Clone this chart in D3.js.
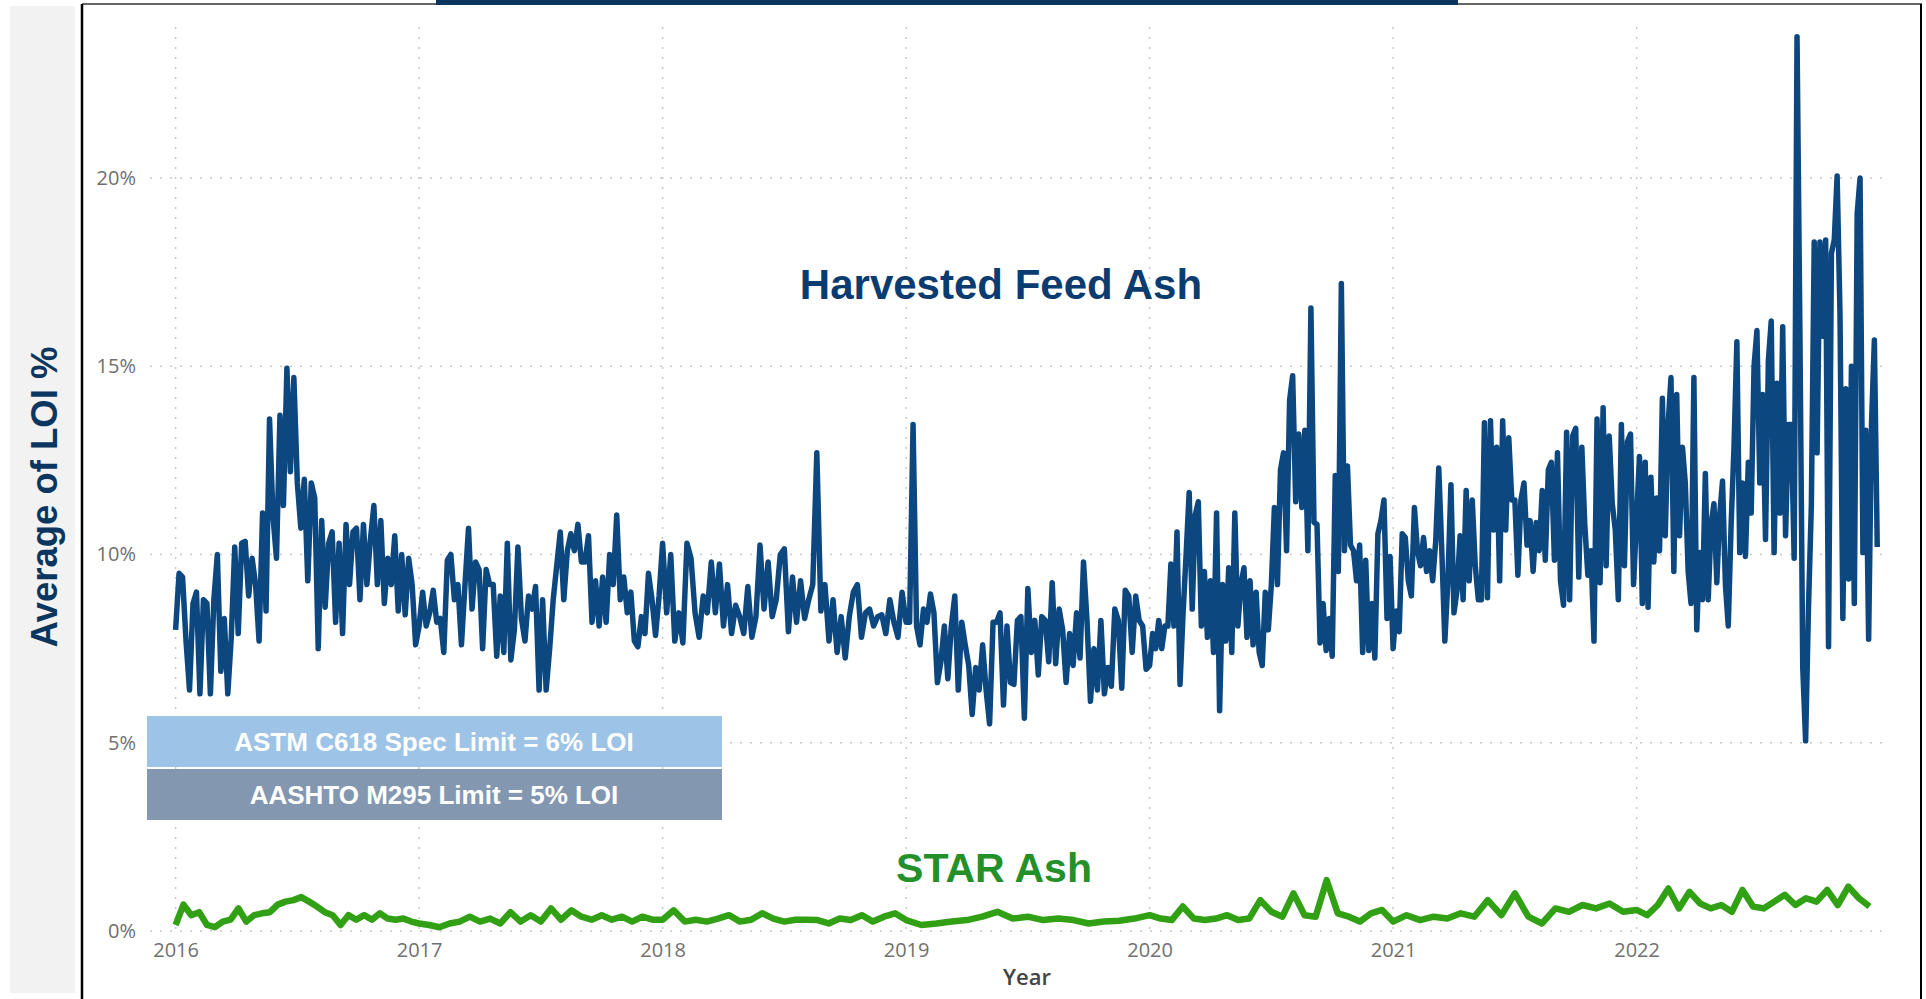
<!DOCTYPE html>
<html>
<head>
<meta charset="utf-8">
<script src="https://cdn.jsdelivr.net/npm/d3@7"></script>
<style>
  html, body { margin: 0; padding: 0; background: #fff; }
  svg { display: block; }
</style>
</head>
<body>
<svg id="chart" width="1926" height="999"></svg>
<script>
// Harvested feed ash LOI %, one array per year (evenly spread in the year)
var feed2016 = [8.0, 9.5, 9.4, 7.7, 6.4, 8.7, 9.0, 6.3, 8.8, 8.7, 6.3, 8.8, 10.0, 6.9, 8.3, 6.3, 7.8, 10.2, 7.9, 10.3,
  10.35, 8.9, 9.9, 9.2, 7.7, 11.1, 8.5, 13.6, 11.0, 9.9, 13.7, 11.3, 14.95, 12.2, 14.7, 11.9, 10.7, 12.0, 9.3, 11.9,
  11.5, 7.5, 10.9, 8.6, 10.3, 10.6, 8.2, 10.3, 7.9, 10.8, 9.2, 10.6, 10.7, 8.8, 10.8, 9.2, 10.4, 11.3, 9.2, 10.9,
  8.7, 9.9, 9.2, 10.5, 8.5, 10.0, 8.4, 9.9, 9.2, 7.6];
var feed2017 = [8.1, 9.0, 8.1, 8.45, 9.05, 8.2, 8.3, 7.4, 9.85, 10.0, 8.8, 9.2, 7.6, 9.2, 10.7, 8.55, 9.8, 9.6, 7.5, 9.6,
  9.2, 9.2, 7.3, 8.9, 7.4, 10.3, 7.2, 8.0, 10.2, 8.3, 7.7, 8.9, 8.55, 9.15, 6.4, 8.8, 6.4, 7.5, 8.8, 9.7,
  10.6, 8.8, 10.1, 10.55, 10.1, 10.8, 9.8, 9.8, 10.5, 8.2, 9.3, 8.1, 9.4, 8.2, 10.0, 9.2, 11.05, 8.8, 9.4, 8.45,
  9.0, 7.7, 7.55, 8.35, 7.9, 9.5, 8.8, 7.85, 8.9];
var feed2018 = [10.3, 8.45, 10.0, 7.7, 8.45, 7.65, 10.3, 9.9, 8.45, 7.8, 8.9, 8.45, 9.8, 8.45, 9.75, 8.1, 9.2, 7.9, 8.65, 8.35,
  7.9, 9.15, 7.8, 8.35, 10.25, 8.55, 9.8, 8.35, 8.8, 10.0, 10.15, 7.95, 9.4, 8.2, 9.3, 8.3, 8.8, 9.2, 12.7, 8.5,
  9.2, 7.7, 8.8, 7.4, 8.35, 7.25, 8.35, 9.0, 9.2, 7.8, 8.45, 8.55, 8.1, 8.35, 8.4, 7.9, 8.8, 8.2, 7.8, 9.0];
var feed2019 = [8.2, 8.2, 13.45, 8.1, 7.6, 8.55, 8.2, 8.95, 8.45, 6.6, 7.15, 8.1, 6.7, 8.1, 8.9, 6.4, 8.2, 7.6, 7.05, 5.75,
  7.0, 6.4, 7.6, 6.4, 5.5, 8.2, 8.2, 8.45, 6.0, 8.1, 6.6, 6.55, 8.25, 8.35, 5.65, 9.1, 7.4, 8.25, 6.8, 8.35,
  8.25, 7.15, 9.25, 7.1, 8.55, 8.0, 6.6, 7.9, 7.05, 8.45, 7.25, 9.8, 8.25, 6.1, 7.5, 6.4, 8.25, 6.3, 7.0, 6.5,
  8.55, 8.25, 6.45, 9.05, 8.9, 7.4, 8.9, 8.25, 8.1, 6.95];
var feed2020 = [7.05, 7.9, 7.5, 8.25, 7.5, 8.1, 8.1, 9.75, 8.1, 10.6, 6.55, 8.45, 10.0, 11.65, 8.55, 11.05, 11.4, 8.1, 9.55, 7.8,
  9.3, 7.4, 11.1, 5.85, 9.2, 7.7, 9.65, 7.4, 11.1, 8.1, 9.2, 9.65, 7.8, 9.3, 7.6, 9.0, 7.4, 7.05, 9.0, 8.0,
  9.2, 11.25, 9.2, 12.25, 12.7, 10.1, 14.1, 14.75, 11.4, 13.2, 11.25, 13.3, 10.1, 16.55, 10.85, 10.8, 7.65, 8.7, 7.45, 8.3,
  7.3, 12.1, 9.55, 17.2, 10.1, 12.35, 10.25, 10.1, 9.3, 10.25, 7.4, 9.85, 7.45, 8.7, 7.25, 10.55, 10.9, 11.45, 8.3, 9.95];
var feed2021 = [7.5, 8.5, 7.95, 10.55, 10.45, 9.3, 8.9, 11.25, 10.1, 9.7, 10.45, 9.55, 10.1, 9.3, 10.35, 12.3, 10.1, 7.7, 9.3, 11.85,
  8.45, 9.05, 10.5, 8.8, 11.7, 9.3, 11.45, 9.7, 8.8, 8.8, 13.5, 8.85, 13.55, 10.65, 12.85, 9.3, 13.55, 10.65, 13.1, 11.45,
  11.45, 9.45, 11.45, 11.9, 10.25, 10.9, 9.55, 10.85, 10.1, 11.7, 9.85, 12.25, 12.45, 9.85, 12.7, 9.3, 8.65, 13.25, 8.8, 13.15,
  13.35, 9.4, 12.85, 10.75, 9.45, 10.1, 7.7, 13.6, 9.25, 13.9, 9.7, 13.15, 11.35, 10.65, 8.8, 13.45, 9.7, 13.0, 13.2, 9.2];
var feed2022 = [10.95, 12.6, 8.7, 12.45, 8.6, 12.05, 9.8, 11.5, 10.1, 14.15, 10.5, 13.45, 14.7, 9.55, 14.25, 10.5, 12.85, 11.9, 9.55, 8.7,
  14.7, 8.0, 10.05, 8.8, 12.15, 8.8, 10.8, 11.35, 9.25, 11.05, 11.95, 9.2, 8.1, 10.8, 12.85, 15.65, 10.05, 11.9, 9.95, 12.45,
  11.1, 15.0, 15.95, 11.9, 14.25, 10.4, 15.15, 16.2, 10.05, 14.55, 11.1, 16.05, 10.5, 13.45, 13.45, 9.9, 23.75, 15.95, 7.0, 5.05,
  8.6, 11.3, 18.3, 12.7, 18.3, 15.8, 18.35, 7.55, 18.0, 18.35, 20.05, 16.4, 8.3, 14.4, 9.35, 15.0, 8.7, 19.05, 20.0, 10.05,
  13.3, 7.75, 13.45, 15.7, 10.2];

// STAR ash LOI %
var star2016 = [0.16, 0.7, 0.42, 0.5, 0.16, 0.1, 0.25, 0.3, 0.6, 0.25, 0.42, 0.47, 0.5, 0.7, 0.78, 0.82, 0.9, 0.78, 0.65, 0.5,
  0.42, 0.16, 0.42, 0.3, 0.42, 0.3, 0.47, 0.33, 0.3, 0.33, 0.25];
var star2017 = [0.2, 0.16, 0.1, 0.2, 0.25, 0.38, 0.25, 0.33, 0.2, 0.5, 0.25, 0.42, 0.25, 0.6, 0.3, 0.55, 0.38, 0.3, 0.42, 0.3,
  0.38, 0.25, 0.38, 0.3];
var star2018 = [0.3, 0.55, 0.25, 0.3, 0.25, 0.33, 0.42, 0.25, 0.3, 0.47, 0.33, 0.25, 0.3, 0.3, 0.29, 0.2, 0.33, 0.29, 0.42, 0.25,
  0.38, 0.47];
var star2019 = [0.29, 0.16, 0.2, 0.25, 0.29, 0.38, 0.51, 0.33, 0.38, 0.29, 0.33, 0.29, 0.2, 0.25, 0.27, 0.33];
var star2020 = [0.42, 0.33, 0.29, 0.65, 0.33, 0.29, 0.33, 0.42, 0.29, 0.33, 0.82, 0.51, 0.38, 1.0, 0.42, 0.38, 1.35, 0.47, 0.38, 0.25,
  0.47, 0.56];
var star2021 = [0.25, 0.42, 0.29, 0.38, 0.33, 0.47, 0.38, 0.82, 0.42, 1.0, 0.38, 0.2, 0.6, 0.51, 0.69, 0.6, 0.73, 0.51];
var star2022 = [0.56, 0.42, 0.69, 1.13, 0.6, 1.04, 0.73, 0.6, 0.69, 0.51, 1.09, 0.65, 0.6, 0.78, 0.96, 0.69, 0.87, 0.78, 1.09, 0.69,
  1.18, 0.87, 0.65];

var years = [2016, 2017, 2018, 2019, 2020, 2021, 2022];
var yTicks = [0, 5, 10, 15, 20];
var feedByYear = [feed2016, feed2017, feed2018, feed2019, feed2020, feed2021, feed2022];
var starByYear = [star2016, star2017, star2018, star2019, star2020, star2021, star2022];

var svg = d3.select('#chart');

// spread each year's readings evenly across that year
function toPoints(byYear) {
	var pts = [];
	byYear.forEach(function (vals, k) {
		vals.forEach(function (v, i) {
			pts.push({ t: years[k] + i / vals.length, v: v });
		});
	});
	return pts;
}
var feed = toPoints(feedByYear);
var star = toPoints(starByYear);

var x = d3.scaleLinear().domain([2016, 2022]).range([175.6, 1636.6]);
var y = d3.scaleLinear().domain([0, 24]).range([931, 27.4]);
var gridLeft = 150, gridRight = 1888;

// left grey strip and frame
svg.append('rect').attr('x', 10).attr('y', 6).attr('width', 65).attr('height', 987).attr('fill', '#f2f2f2');
svg.append('line').attr('x1', 82).attr('x2', 1922).attr('y1', 4).attr('y2', 4)
	.attr('stroke', '#333').attr('stroke-width', 1.5);
svg.append('line').attr('x1', 82).attr('x2', 82).attr('y1', 4).attr('y2', 999)
	.attr('stroke', '#000').attr('stroke-width', 2.5);
svg.append('line').attr('x1', 1921).attr('x2', 1921).attr('y1', 4).attr('y2', 999)
	.attr('stroke', '#000').attr('stroke-width', 2);
svg.append('rect').attr('x', 436).attr('y', 0).attr('width', 1022).attr('height', 5).attr('fill', '#0b3660');

// gridlines
svg.append('g').selectAll('line').data(yTicks).enter().append('line')
	.attr('x1', gridLeft).attr('x2', gridRight)
	.attr('y1', function (d) { return y(d); }).attr('y2', function (d) { return y(d); })
	.attr('stroke', '#c8c8c8').attr('stroke-width', 1.5).attr('stroke-dasharray', '2,8');
svg.append('g').selectAll('line').data(years).enter().append('line')
	.attr('x1', function (d) { return x(d); }).attr('x2', function (d) { return x(d); })
	.attr('y1', 27).attr('y2', y(0))
	.attr('stroke', '#c8c8c8').attr('stroke-width', 1.5).attr('stroke-dasharray', '2,8');

// axes (tick text only)
var yAxis = d3.axisLeft(y).tickValues(yTicks).tickSize(0).tickPadding(0)
	.tickFormat(function (d) { return d + '%'; });
svg.append('g').attr('transform', 'translate(136,0)').call(yAxis)
	.call(function (g) { g.select('.domain').remove(); })
	.selectAll('text').attr('font-family', 'Open Sans').attr('font-size', 20).attr('fill', '#707070');

var xAxis = d3.axisBottom(x).tickValues(years).tickSize(0).tickPadding(0).tickFormat(d3.format('d'));
svg.append('g').attr('transform', 'translate(0,943)').call(xAxis)
	.call(function (g) { g.select('.domain').remove(); })
	.selectAll('text').attr('font-family', 'Open Sans').attr('font-size', 20).attr('fill', '#707070');

svg.append('text').attr('x', 1027).attr('y', 985).attr('text-anchor', 'middle')
	.attr('font-family', 'Open Sans').attr('font-weight', 600).attr('font-size', 22).attr('fill', '#444')
	.text('Year');

svg.append('text').attr('transform', 'translate(57,497) rotate(-90)').attr('text-anchor', 'middle')
	.attr('font-family', 'Liberation Sans').attr('font-weight', 'bold').attr('font-size', 36.5).attr('fill', '#0b3660')
	.text('Average of LOI %');

// lines
var line = d3.line().x(function (d) { return x(d.t); }).y(function (d) { return y(d.v); });
svg.append('path').datum(feed).attr('d', line).attr('fill', 'none')
	.attr('stroke', '#0c4780').attr('stroke-width', 5.5).attr('stroke-linejoin', 'round');
svg.append('path').datum(star).attr('d', line).attr('fill', 'none')
	.attr('stroke', '#31a014').attr('stroke-width', 6.5).attr('stroke-linejoin', 'round');

// series labels
svg.append('text').attr('x', 1001).attr('y', 299).attr('text-anchor', 'middle')
	.attr('font-family', 'Liberation Sans').attr('font-weight', 'bold').attr('font-size', 42).attr('fill', '#0b3c70')
	.text('Harvested Feed Ash');
svg.append('text').attr('x', 994).attr('y', 882).attr('text-anchor', 'middle')
	.attr('font-family', 'Liberation Sans').attr('font-weight', 'bold').attr('font-size', 41).attr('fill', '#23902a')
	.text('STAR Ash');

// spec limit boxes
var boxes = [
	{ label: 'ASTM C618 Spec Limit = 6% LOI', fill: '#9dc3e6', top: 716 },
	{ label: 'AASHTO M295 Limit = 5% LOI', fill: '#8497b0', top: 769 }
];
var bx = svg.append('g').selectAll('g').data(boxes).enter().append('g');
bx.append('rect').attr('x', 147).attr('y', function (d) { return d.top; })
	.attr('width', 575).attr('height', 51).attr('fill', function (d) { return d.fill; });
bx.append('text').attr('x', 434).attr('y', function (d) { return d.top + 35; }).attr('text-anchor', 'middle')
	.attr('font-family', 'Liberation Sans').attr('font-weight', 'bold').attr('font-size', 26).attr('fill', '#fff')
	.text(function (d) { return d.label; });
</script>
</body>
</html>
